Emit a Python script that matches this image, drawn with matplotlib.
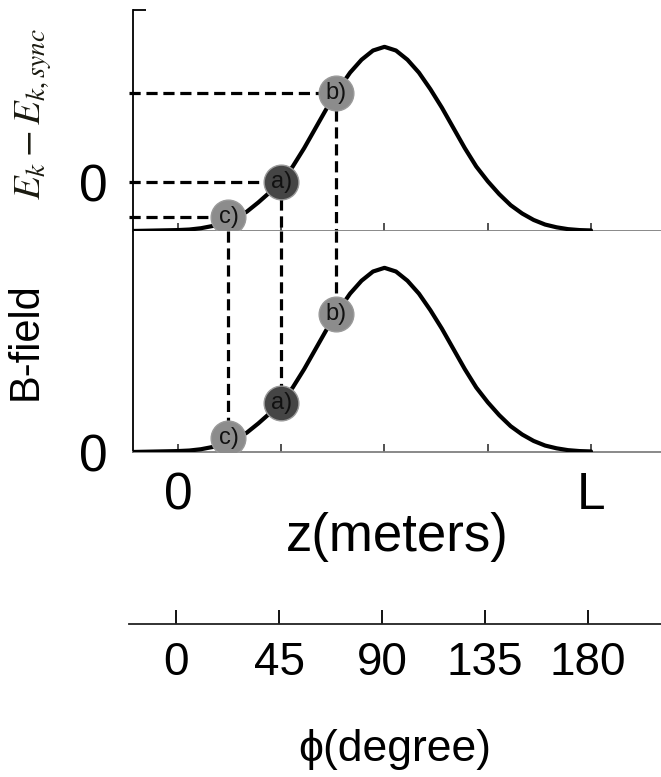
import matplotlib
matplotlib.use('Agg')
import matplotlib.pyplot as plt
from matplotlib.ticker import FixedLocator

plt.rcParams['font.family'] = ['Liberation Sans', 'DejaVu Sans']
plt.rcParams['mathtext.fontset'] = 'stix'

# field profile along the undulator, phase in degrees
phi = [-20, 0, 5, 10, 15, 20, 25, 30, 35, 40, 45, 50, 55, 60, 65, 70, 75, 80, 85,
       90, 95, 100, 105, 110, 115, 120, 125, 130, 135, 140, 145, 150, 155, 160,
       165, 170, 175, 180]
field = [0, 0.005, 0.008, 0.015, 0.027, 0.045, 0.07, 0.105, 0.155, 0.21, 0.27,
         0.35, 0.45, 0.56, 0.67, 0.77, 0.86, 0.93, 0.98, 1.0, 0.98, 0.93, 0.86,
         0.77, 0.67, 0.56, 0.45, 0.35, 0.27, 0.2, 0.14, 0.095, 0.06, 0.035,
         0.02, 0.01, 0.005, 0.003]

# marked electrons
pt_names = ['c)', 'a)', 'b)']
pt_phi = [22, 45, 69]
pt_val = [0.075, 0.265, 0.75]
pt_colors = ['#8c8c8c', '#454545', '#8c8c8c']

z_ticks = [0, 45, 90, 135, 180]
z_labels = ['0', '', '', '', 'L']
phi_ticks = [0, 45, 90, 135, 180]

W, H = 661, 777
fig = plt.figure(figsize=(W / 100, H / 100), dpi=100)

ax_top = fig.add_axes([133 / W, (H - 231) / H, (W - 133) / W, 221 / H])
ax_bot = fig.add_axes([133 / W, (H - 452) / H, (W - 133) / W, 221 / H])

xlim = (-19.6, 210.5)
for ax in (ax_top, ax_bot):
    ax.plot(phi, field, color='black', lw=3.0, solid_capstyle='round', zorder=3)
    ax.set_xlim(*xlim)
    ax.set_ylim(0, 1.2)
    ax.spines['top'].set_visible(False)
    ax.spines['right'].set_visible(False)
    ax.spines['left'].set_color('black')
    ax.spines['left'].set_linewidth(1.3)
    ax.spines['bottom'].set_color('#808080')
    ax.spines['bottom'].set_linewidth(1.3)
    ax.set_xticks(z_ticks)
    ax.tick_params(axis='x', direction='in', length=6, width=1.2, color='#333333')
    ax.tick_params(axis='y', length=0, labelsize=37, pad=18)
    for name, x, y, c in zip(pt_names, pt_phi, pt_val, pt_colors):
        ax.plot(x, y, 'o', ms=25, mfc=c, mec='#9a9a9a', mew=1, zorder=5)
        ax.text(x, y, name, ha='center', va='center', fontsize=17,
                color='#111111', zorder=6)

dash = dict(color='black', lw=2.3, dashes=(3.5, 1.8), zorder=2, clip_on=False)
for x, y in zip(pt_phi, pt_val):
    ax_top.plot([-21.5, x], [y, y], **dash)
    ax_top.plot([x, x], [y, 0], **dash)
    ax_bot.plot([x, x], [1.2, y], **dash)

# top panel: zero of the energy difference sits at electron a)
ax_top.set_xticklabels([])
ax_top.set_yticks([pt_val[1]])
ax_top.set_yticklabels(['0'])
ax_top.yaxis.set_minor_locator(FixedLocator([1.2]))
ax_top.tick_params(axis='y', which='minor', direction='in', length=9, width=1.3)
ax_top.set_ylabel(r'$E_k - E_{k,sync}$', fontsize=28, color='#1a1a10')
ax_top.yaxis.set_label_coords(-0.150, 0.53)

ax_bot.set_yticks([0])
ax_bot.set_yticklabels(['0'])
ax_bot.set_xticklabels(z_labels, fontsize=37)
ax_bot.tick_params(axis='x', pad=14)
ax_bot.set_xlabel('z(meters)', fontsize=38, labelpad=-6)
ax_bot.set_ylabel('B-field', fontsize=30)
ax_bot.yaxis.set_label_coords(-0.165, 0.5)

# phase axis below
ax_phi = fig.add_axes([129 / W, (H - 624) / H, (W - 129) / W, 0.001])
ax_phi.set_xlim((129 - 176) / 2.289, (661 - 176) / 2.289)
for s in ['top', 'right', 'left']:
    ax_phi.spines[s].set_visible(False)
ax_phi.spines['bottom'].set_linewidth(1.3)
ax_phi.spines['bottom'].set_color('#222222')
ax_phi.set_yticks([])
ax_phi.set_xticks(phi_ticks)
ax_phi.set_xticklabels([str(t) for t in phi_ticks], fontsize=33)
ax_phi.tick_params(axis='x', direction='in', length=10, width=1.3, pad=12)
ax_phi.set_xlabel('ϕ(degree)', fontsize=32, labelpad=32)

plt.savefig('out.png', dpi=100)
